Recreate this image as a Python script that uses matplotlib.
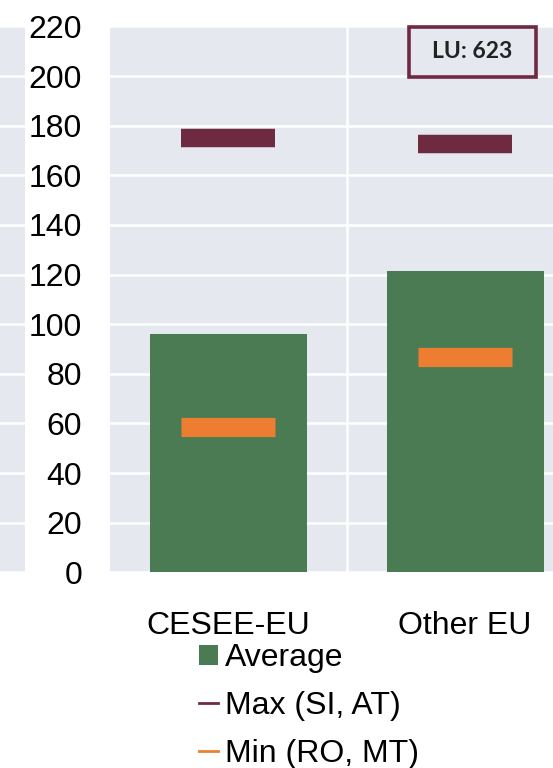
import matplotlib
matplotlib.use("Agg")
import matplotlib.pyplot as plt
from matplotlib.patches import Patch, Rectangle
from matplotlib.lines import Line2D

plt.rcParams['font.family'] = ['Liberation Sans', 'DejaVu Sans']

# Data
categories = ["CESEE-EU", "Other EU"]
average = [96, 121.5]
max_vals = [175.2, 172.6]
min_vals = [58.5, 86.6]
y_ticks = list(range(0, 221, 20))
legend_labels = ["Average", "Max (SI, AT)", "Min (RO, MT)"]
note_text = "LU: 623"

BG = "#e5e8ef"
GREEN = "#4b7b52"
MAROON = "#6e2a40"
ORANGE = "#ed7d31"
FS = 23

W, H = 553, 768
fig = plt.figure(figsize=(W / 100, H / 100), dpi=100)

def px_rect(x0, y0, x1, y1):
    return [x0 / W, 1 - y1 / H, (x1 - x0) / W, (y1 - y0) / H]

# Neighbouring panel edge on the far left
ax0 = fig.add_axes(px_rect(0, 26.4, 25, 572.3))
ax0.set_facecolor(BG)
ax0.set_ylim(0, 220)
ax0.set_yticks(y_ticks)
ax0.set_xticks([])
ax0.tick_params(left=False, labelleft=False)
ax0.grid(axis='y', color='white', lw=1.8)
ax0.set_axisbelow(True)
for s in ax0.spines.values():
    s.set_visible(False)

# Main panel
ax = fig.add_axes(px_rect(110, 26.4, 553, 572.3))
ax.set_facecolor(BG)
x = list(range(len(categories)))
ax.bar(x, average, width=0.663, color=GREEN, zorder=2)
ax.plot(x, max_vals, linestyle='none', marker='_', ms=67, mew=13.3,
        color=MAROON, zorder=3)
ax.plot(x, min_vals, linestyle='none', marker='_', ms=67, mew=13.8,
        color=ORANGE, zorder=3)

ax.set_xlim(-0.5, -0.5 + 443 / 236.7)
ax.set_ylim(0, 220)
ax.set_yticks(y_ticks)
ax.set_yticklabels([str(v) for v in y_ticks], fontsize=FS)
ax.set_xticks(x)
ax.set_xticklabels(categories, fontsize=FS)
ax.set_xticks([0.5], minor=True)
ax.tick_params(axis='y', length=0, pad=20)
ax.tick_params(axis='x', which='both', length=0, pad=28)
ax.grid(axis='y', color='white', lw=1.8, zorder=0)
ax.grid(axis='x', which='minor', color='white', lw=1.8, zorder=0)
ax.set_axisbelow(True)
for s in ax.spines.values():
    s.set_visible(False)

# Annotation box
fig.patches.append(Rectangle((408.5 / W, 1 - 77 / H), 127 / W, 50 / H,
                             transform=fig.transFigure, fill=False,
                             edgecolor=MAROON, lw=2.6, zorder=5))
fig.text(472 / W, 1 - 52 / H, note_text, ha='center', va='center',
         fontsize=16.5, fontweight='bold', family=['Lato', 'DejaVu Sans'],
         color='#222222')

# Legend
handles = [
    Patch(facecolor=GREEN, edgecolor='none'),
    Line2D([], [], color=MAROON, lw=2.0),
    Line2D([], [], color=ORANGE, lw=2.0),
]
fig.legend(handles, legend_labels, loc='upper left',
           bbox_to_anchor=(199 / W, 1 - 643 / H), frameon=False,
           fontsize=FS, handlelength=0.6, handleheight=0.6,
           handletextpad=0.22, labelspacing=0.56, borderpad=0,
           borderaxespad=0)

fig.savefig("out.png", dpi=100)
